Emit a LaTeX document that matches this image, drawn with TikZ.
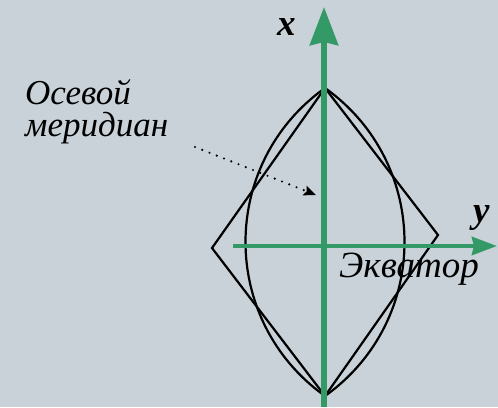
\documentclass[tikz,border=0pt]{standalone}
\usepackage{fontspec}
\setmainfont{Liberation Serif}
\usetikzlibrary{arrows.meta}
\definecolor{bgc}{RGB}{200,210,216}
\definecolor{axisgreen}{RGB}{51,153,102}
\begin{document}
\begin{tikzpicture}[x=1pt,y=-1pt,
  axisline/.style={draw=axisgreen,line width=6pt},
  shapeline/.style={draw=black,line width=2.2pt,line join=miter},
  lbl/.style={inner sep=0pt,anchor=base west,font=\fontsize{35}{32}\selectfont\itshape},
  axlbl/.style={inner sep=0pt,anchor=base west,font=\fontsize{37}{37}\selectfont\bfseries\itshape}]
\fill[bgc] (0,0) rectangle (498,407);
\useasboundingbox (0,0) rectangle (498,407);
% key points
\coordinate (T) at (325,88);
\coordinate (B) at (325,396);
\coordinate (L) at (212,248);
\coordinate (R) at (438,235);
\coordinate (vstart) at (324,407);
\coordinate (vend) at (324,7);
\coordinate (hstart) at (233,246);
\coordinate (hend) at (497,246);
\coordinate (dstart) at (195,147);
\coordinate (dend) at (316,195);
% lens
\draw[shapeline] (T) .. controls (219,163.6) and (219,320.4) .. (B);
\draw[shapeline] (T) .. controls (431,163.6) and (431,320.4) .. (B);
% quadrilateral
\draw[shapeline] (T) -- (R) -- (B) -- (L) -- cycle;
% axes
\draw[axisline,-{Stealth[length=38pt,width=28pt,inset=3pt]}] (vstart) -- (vend);
\draw[axisline,line width=4.5pt,-{Stealth[length=25pt,width=18pt,inset=2pt]}] (hstart) -- (hend);
% dotted arrow
\draw[line width=2.4pt,line cap=round,dash pattern=on 0pt off 7.8pt,-{Stealth[length=12pt,width=10pt,inset=2pt]}] (dstart) -- (dend);
% labels
\node[lbl,align=left] (osev) at (25,136) {Осевой\\меридиан};
\node[lbl,font=\fontsize{37}{37}\selectfont\itshape] (ekv) at (339,277) {Экватор};
\node[axlbl] (xl) at (277,35) {x};
\node[axlbl] (yl) at (473,222) {y};
\end{tikzpicture}
\end{document}
